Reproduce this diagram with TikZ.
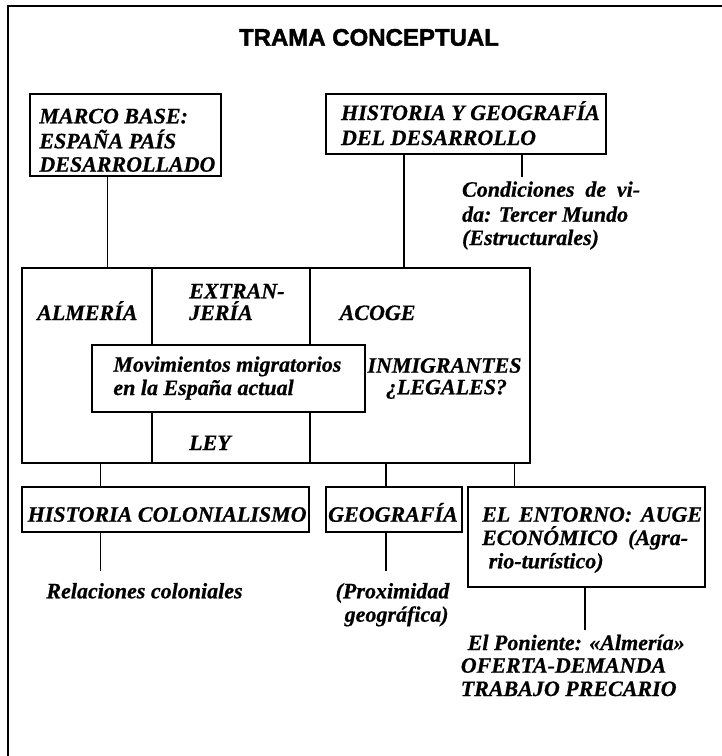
\documentclass[tikz,border=0pt]{standalone}
\usepackage{fontspec}
\setmainfont{Liberation Serif}[BoldItalicFeatures={FakeBold=0.6}]
\newfontfamily\titlefont{Liberation Sans}[BoldFeatures={FakeBold=1.8}]
\begin{document}
\begin{tikzpicture}[x=0.5pt,y=-0.5pt,
  box/.style={draw, line width=1pt, inner sep=0pt, outer sep=0pt},
  conn/.style={line width=0.8pt},
  frame/.style={line width=1.2pt},
  txt/.style={font=\fontsize{11}{12.25}\selectfont\bfseries\itshape, inner sep=0pt, anchor=base west},
  ctxt/.style={txt, anchor=base},
  title/.style={font=\titlefont\bfseries\fontsize{12}{14}\selectfont, inner sep=0pt, anchor=base}]
\useasboundingbox (0,0) rectangle (722,756);
% outer frame (top and left sides only)
\draw[frame] (8,770) -- (8,6) -- (740,6);
% title
\node[title] (title) at (369,45.7) {TRAMA CONCEPTUAL};
% boxes
\node[box, minimum width=95.5pt, minimum height=41pt] (b1) at (125.5,135) {};
\node[box, minimum width=139.75pt, minimum height=30pt] (b2) at (465.75,124) {};
\node[box, minimum width=254.2pt, minimum height=97.5pt] (big) at (276.2,365.5) {};
\node[box, minimum width=136.25pt, minimum height=33.65pt] (inner) at (228.35,378.65) {};
\node[box, minimum width=143.65pt, minimum height=22.35pt] (hc) at (165.75,509.35) {};
\node[box, minimum width=67.9pt, minimum height=22.35pt] (geo) at (393.9,509.35) {};
\node[box, minimum width=118.6pt, minimum height=49.85pt] (ent) at (586.15,536.85) {};
% texts in boxes
\node[txt] (b1a) at (39,123.3) {MARCO BASE:};
\node[txt] (b1b) at (39,148.3) {ESPAÑA PAÍS};
\node[txt] (b1c) at (39,171.7) {DESARROLLADO};
\node[txt] (b2a) at (340.7,120) {HISTORIA Y GEOGRAFÍA};
\node[txt] (b2b) at (340.7,145) {DEL DESARROLLO};
\node[txt] (cond1) at (461.7,196.7) {\makebox[89pt][s]{Condiciones de vi-}};
\node[txt] (cond2) at (461.7,221.7) {da: Tercer Mundo};
\node[txt] (cond3) at (461.7,245) {(Estructurales)};
\node[txt] (alm) at (36.8,320) {ALMERÍA};
\node[txt] (ext1) at (188.8,298.3) {EXTRAN-};
\node[txt] (ext2) at (188.8,320) {JERÍA};
\node[txt] (acoge) at (339.3,320) {ACOGE};
\node[ctxt] (inm1) at (444.5,372.7) {INMIGRANTES};
\node[ctxt] (inm2) at (446.5,394.3) {¿LEGALES?};
\node[txt] (mov1) at (113,371.7) {Movimientos migratorios};
\node[txt] (mov2) at (113,395) {en la España actual};
\node[txt] (ley) at (188.8,450) {LEY};
\node[txt] (hct) at (27.3,521.7) {HISTORIA COLONIALISMO};
\node[txt] (geot) at (327.8,521.7) {GEOGRAFÍA};
\node[txt] (ent1) at (481.7,521.7) {\makebox[110pt][s]{EL ENTORNO: AUGE}};
\node[txt] (ent2) at (481.7,545) {\makebox[103pt][s]{ECONÓMICO (Agra-}};
\node[txt] (ent3) at (488.3,568.3) {rio-turístico)};
\node[txt] (rel) at (46,598.3) {Relaciones coloniales};
\node[ctxt] (prox1) at (392.5,598.3) {(Proximidad};
\node[ctxt] (prox2) at (396.6,621.7) {geográfica)};
\node[txt] (pon1) at (467.3,650) {El Poniente: «Almería»};
\node[txt] (pon2) at (460.4,672.7) {OFERTA-DEMANDA};
\node[txt] (pon3) at (460.4,696) {TRABAJO PRECARIO};
% connector x-positions and free ends
\coordinate (k1) at (107.3,0);
\coordinate (k2) at (403.8,0);
\coordinate (k3end) at (521.7,176.7);
\coordinate (d1) at (151.9,0);
\coordinate (d2) at (309.9,0);
\coordinate (m1) at (100.4,0);
\coordinate (m2) at (385.8,0);
\coordinate (m3) at (514.3,0);
\coordinate (hcend) at (100.4,570.7);
\coordinate (geoend) at (385.8,570.7);
\coordinate (entend) at (584.7,630);
% connectors
\draw[conn] (b1.south -| k1) -- (big.north -| k1);
\draw[conn] (b2.south -| k2) -- (big.north -| k2);
\draw[conn] (b2.south -| k3end) -- (k3end);
\draw[conn] (big.north -| d1) -- (inner.north -| d1);
\draw[conn] (big.north -| d2) -- (inner.north -| d2);
\draw[conn] (inner.south -| d1) -- (big.south -| d1);
\draw[conn] (inner.south -| d2) -- (big.south -| d2);
\draw[conn] (big.south -| m1) -- (hc.north -| m1);
\draw[conn] (big.south -| m2) -- (geo.north -| m2);
\draw[conn] (big.south -| m3) -- (ent.north -| m3);
\draw[conn] (hc.south -| hcend) -- (hcend);
\draw[conn] (geo.south -| geoend) -- (geoend);
\draw[conn] (ent.south -| entend) -- (entend);
\end{tikzpicture}
\end{document}
